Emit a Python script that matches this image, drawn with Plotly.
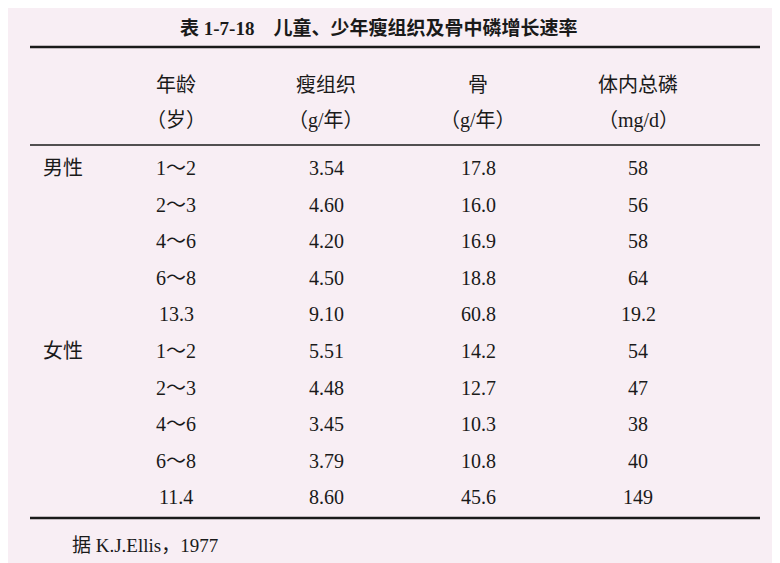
import plotly.graph_objects as go

title = "表 1-7-18　儿童、少年瘦组织及骨中磷增长速率"
header_top = ["年龄", "瘦组织", "骨", "体内总磷"]
header_unit = ["（岁）", "（g/年）", "（g/年）", "（mg/d）"]
groups = ["男性", "女性"]
ages = ["1～2", "2～3", "4～6", "6～8", "13.3", "1～2", "2～3", "4～6", "6～8", "11.4"]
lean = ["3.54", "4.60", "4.20", "4.50", "9.10", "5.51", "4.48", "3.45", "3.79", "8.60"]
bone = ["17.8", "16.0", "16.9", "18.8", "60.8", "14.2", "12.7", "10.3", "10.8", "45.6"]
phos = ["58", "56", "58", "64", "19.2", "54", "47", "38", "40", "149"]
note = "据 K.J.Ellis，1977"

FONT = "Liberation Serif, Noto Sans CJK SC"
OFF = -8
col_x = [168, 318, 470, 630]
row_y0, row_dy = 168 + OFF, 36.6

fig = go.Figure()
ann = []
def txt(x, y, s, size=20, bold=False, anchor="center"):
    ann.append(dict(x=x, y=y, text="<b>%s</b>" % s if bold else s, showarrow=False,
                    xanchor=anchor, yanchor="middle",
                    font=dict(family=FONT, size=size, color="#1a1a1a")))

txt(370, 28 + OFF, title, size=19, bold=True)
for i, x in enumerate(col_x):
    txt(x, 85 + OFF, header_top[i])
    txt(x, 120 + OFF, header_unit[i])
for g, gi in zip(groups, [0, 5]):
    txt(55, row_y0 + gi * row_dy, g)
for r in range(len(ages)):
    y = row_y0 + r * row_dy
    for x, v in zip(col_x, [ages[r], lean[r], bone[r], phos[r]]):
        txt(x, y, v)
txt(62, 545 + OFF, note, size=19, anchor="left")

lines = [(47 + OFF, 2.5), (145 + OFF, 1.5), (518 + OFF, 2.5)]
shapes = [dict(type="line", x0=22, x1=752, y0=y, y1=y, xref="x", yref="y",
               line=dict(color="#1a1a1a", width=w)) for y, w in lines]

fig.update_layout(width=780, height=563, margin=dict(l=0, r=0, t=0, b=0),
                  paper_bgcolor="#f8eef4", plot_bgcolor="#f8eef4",
                  xaxis=dict(range=[0, 780], visible=False),
                  yaxis=dict(range=[563, 0], visible=False),
                  annotations=ann, shapes=shapes, showlegend=False)
fig.write_html("out.html")
